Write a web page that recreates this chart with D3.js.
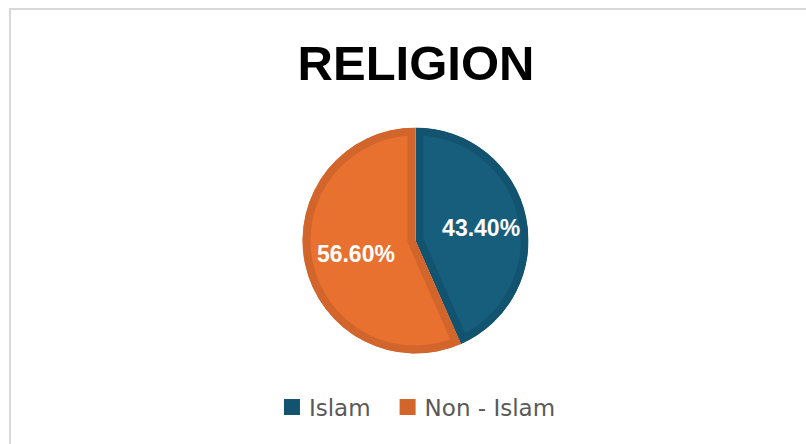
<!DOCTYPE html>
<html>
<head>
<meta charset="utf-8">
<script src="https://cdn.jsdelivr.net/npm/d3@7"></script>
<style>
  html, body { margin: 0; padding: 0; background: #fff; }
  svg { display: block; }
</style>
</head>
<body>
<svg id="chart" width="806" height="444"></svg>
<script>
// data
const categories = ["Islam", "Non - Islam"];
const values = [43.40, 56.60];
const fills = ["#175e7d", "#e8712f"];
const edges = ["#12536f", "#d2652b"];
const title = "RELIGION";

const svg = d3.select("#chart");
const width = 806, height = 444;

// chart frame
svg.append("rect")
    .attr("x", 10).attr("y", 9)
    .attr("width", width + 20).attr("height", height + 20)
    .attr("fill", "#fff")
    .attr("stroke", "#d9d9d9")
    .attr("stroke-width", 2);

svg.append("text")
    .attr("x", 416).attr("y", 80)
    .attr("text-anchor", "middle")
    .attr("font-family", "Liberation Sans, Arial, sans-serif")
    .attr("font-weight", "bold")
    .attr("font-size", 49)
    .attr("fill", "#000")
    .text(title);

const cx = 415.5, cy = 240.5, radius = 113;

const pie = d3.pie().sort(null).value(d => d);
const arcs = pie(values);
const arc = d3.arc().innerRadius(0).outerRadius(radius);
const labelArc = d3.arc().innerRadius(64).outerRadius(64);

const g = svg.append("g").attr("transform", `translate(${cx},${cy})`);
const defs = svg.append("defs");

arcs.forEach((a, i) => {
    defs.append("clipPath").attr("id", "clip" + i)
        .append("path").attr("d", arc(a));
});

// slices, with a darker band inside the edge (stroke clipped to the slice)
g.selectAll("path.slice")
    .data(arcs)
    .enter()
    .append("path")
    .attr("class", "slice")
    .attr("d", arc)
    .attr("fill", (d, i) => fills[i])
    .attr("stroke", (d, i) => edges[i])
    .attr("stroke-width", 16)
    .attr("stroke-linejoin", "miter")
    .attr("clip-path", (d, i) => `url(#clip${i})`);

g.selectAll("text.lbl")
    .data(arcs)
    .enter()
    .append("text")
    .attr("class", "lbl")
    .attr("x", d => labelArc.centroid(d)[0] + 3)
    .attr("y", d => labelArc.centroid(d)[1] + 8.5)
    .attr("text-anchor", "middle")
    .attr("font-family", "Liberation Sans, Arial, sans-serif")
    .attr("font-weight", "bold")
    .attr("font-size", 23)
    .attr("fill", "#fff")
    .text(d => d.value.toFixed(2) + "%");

// legend
const legend = svg.append("g");
const sw = 16, gapText = 9, gapItem = 29;
let x = 0;
categories.forEach((c, i) => {
    legend.append("rect")
        .attr("x", x).attr("y", 399)
        .attr("width", sw).attr("height", sw)
        .attr("fill", edges[i]);
    const t = legend.append("text")
        .attr("x", x + sw + gapText).attr("y", 416)
        .attr("font-family", "DejaVu Sans, sans-serif")
        .attr("font-size", 23)
        .attr("fill", "#595959")
        .text(c);
    x += sw + gapText + t.node().getComputedTextLength() + gapItem;
});
const total = x - gapItem;
legend.attr("transform", `translate(${419.5 - total / 2},0)`);
</script>
</body>
</html>
